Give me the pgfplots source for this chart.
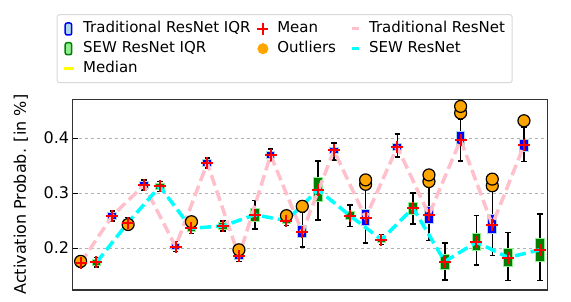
\documentclass[border=0pt]{standalone}
\usepackage{pgfplots}
\pgfplotsset{compat=1.18}
\usepgfplotslibrary{statistics}
\usepackage{fontspec}
\setmainfont{DejaVu Sans}
\definecolor{lightblue}{HTML}{ADD8E6}
\definecolor{lightgreen}{HTML}{90EE90}
\definecolor{mgreen}{HTML}{008000}
\definecolor{mpink}{HTML}{FFC0CB}
\definecolor{mcyan}{HTML}{00FFFF}
\definecolor{morange}{HTML}{FFA500}
\definecolor{myellow}{HTML}{FFFF00}
\pgfplotsset{
  tradbox/.style={forget plot, draw=black, line width=1.5pt,
    boxplot/every box/.style={draw=lightblue, fill=blue, line width=1pt},
    boxplot/every median/.style={draw=myellow, line width=1.5pt}},
  sewbox/.style={forget plot, draw=black, line width=1.5pt,
    boxplot/every box/.style={draw=lightgreen, fill=mgreen, line width=1pt},
    boxplot/every median/.style={draw=myellow, line width=1.5pt}},
}
\newcommand{\bx}[7]{\addplot[#1, boxplot prepared={draw position=#2, lower whisker=#3, lower quartile=#4, median=#5, upper quartile=#6, upper whisker=#7}] coordinates {};}
\newcommand{\lbb}{\path[draw=none,fill=none] (0pt,-6pt) rectangle (12pt,6pt);}
\newcommand{\lbbw}{\path[draw=none,fill=none] (0pt,-6pt) rectangle (19pt,6pt);}
\begin{document}
\begin{tikzpicture}
\useasboundingbox (-72.7pt,-12pt) rectangle (498.3pt,290pt);
\begin{axis}[
  scale only axis, width=475pt, height=190.7pt,
  xmin=0.5, xmax=30.5, ymin=0.124, ymax=0.4704,
  xtick=\empty, ytick={0.2,0.3,0.4},
  tick pos=left, major tick length=5pt,
  tick style={black, line width=1pt},
  axis line style={line width=1.5pt, black!80},
  ymajorgrids, grid style={dashed, gray!60, line width=0.9pt},
  yticklabel style={font=\fontsize{16}{19}\selectfont, /pgf/number format/fixed, /pgf/number format/precision=1, /pgf/number format/fixed zerofill},
  /pgf/number format/assume math mode=true,
  ylabel={Activation Probab. [in \%]},
  every axis y label/.style={at={(axis description cs:-0.109,0.5)}, rotate=90, anchor=center, font=\fontsize{16}{19}\selectfont},
  boxplot/draw direction=y, boxplot/box extend=0.55, boxplot/whisker extend=0.35,
  legend columns=3,
  legend cell align=left,
  legend style={at={(axis description cs:-0.0337,1.446)}, anchor=north west,
    draw=gray!30, line width=1pt, rounded corners=2pt, inner sep=5pt,
    font=\fontsize{15}{18}\selectfont,
    nodes={inner sep=2pt, text height=11pt, text depth=3.5pt},
    row sep=1.2pt,
    /tikz/every odd column/.append style={column sep=6pt},
    /tikz/every even column/.append style={column sep=4pt}},
]
% legend entries
\addlegendimage{legend image code/.code={\lbb\draw[blue, fill=lightblue, line width=1.5pt] (2.5pt,-6pt) rectangle (9pt,6pt);}}
\addlegendentry{Traditional ResNet IQR}
\addlegendimage{legend image code/.code={\lbb\draw[red, line width=1.7pt] (0.5pt,0pt)--(11.5pt,0pt) (6pt,-6pt)--(6pt,6pt);}}
\addlegendentry{Mean}
\addlegendimage{legend image code/.code={\lbbw\draw[mpink, line width=3pt] (9.5pt,0pt)--(16.5pt,0pt);}}
\addlegendentry{Traditional ResNet}
\addlegendimage{legend image code/.code={\lbb\draw[mgreen, fill=lightgreen, line width=1.5pt] (2.5pt,-6pt) rectangle (9pt,6pt);}}
\addlegendentry{SEW ResNet IQR}
\addlegendimage{legend image code/.code={\lbb\fill[morange] (6pt,0pt) circle (5pt);}}
\addlegendentry{Outliers}
\addlegendimage{legend image code/.code={\lbbw\draw[mcyan, line width=3pt] (9.5pt,0pt)--(16.5pt,0pt);}}
\addlegendentry{SEW ResNet}
\addlegendimage{legend image code/.code={\lbb\draw[myellow, line width=3pt] (1pt,0pt)--(11pt,0pt);}}
\addlegendentry{Median}

% Traditional ResNet boxes (odd positions)
\bx{tradbox}{1}{0.165}{0.167}{0.173}{0.179}{0.181}
\bx{tradbox}{3}{0.2497}{0.2527}{0.2587}{0.2647}{0.2677}
\bx{tradbox}{5}{0.3055}{0.3085}{0.3145}{0.3205}{0.3235}
\bx{tradbox}{7}{0.194}{0.197}{0.203}{0.209}{0.212}
\bx{tradbox}{9}{0.3455}{0.3485}{0.3545}{0.3605}{0.3635}
\bx{tradbox}{11}{0.176}{0.179}{0.185}{0.191}{0.194}
\bx{tradbox}{13}{0.3575}{0.363}{0.369}{0.375}{0.380}
\bx{tradbox}{15}{0.2018}{0.220}{0.229}{0.2405}{0.265}
\bx{tradbox}{17}{0.3600}{0.372}{0.3775}{0.383}{0.391}
\bx{tradbox}{19}{0.209}{0.2405}{0.255}{0.270}{0.310}
\bx{tradbox}{21}{0.3655}{0.378}{0.384}{0.390}{0.4078}
\bx{tradbox}{23}{0.2138}{0.2454}{0.2605}{0.2756}{0.315}
\bx{tradbox}{25}{0.3587}{0.386}{0.397}{0.411}{0.435}
\bx{tradbox}{27}{0.1866}{0.226}{0.2424}{0.2605}{0.305}
\bx{tradbox}{29}{0.3575}{0.3757}{0.3866}{0.397}{0.420}
% SEW ResNet boxes (even positions)
\bx{sewbox}{2}{0.166}{0.169}{0.174}{0.180}{0.183}
\bx{sewbox}{4}{0.2376}{0.2406}{0.2466}{0.2526}{0.2556}
\bx{sewbox}{6}{0.303}{0.306}{0.312}{0.318}{0.321}
\bx{sewbox}{8}{0.227}{0.230}{0.236}{0.242}{0.245}
\bx{sewbox}{10}{0.2315}{0.2345}{0.2405}{0.2465}{0.2495}
\bx{sewbox}{12}{0.2345}{0.2484}{0.2605}{0.2727}{0.2866}
\bx{sewbox}{14}{0.241}{0.244}{0.250}{0.256}{0.259}
\bx{sewbox}{16}{0.2515}{0.2847}{0.306}{0.3284}{0.3587}
\bx{sewbox}{18}{0.239}{0.2515}{0.2593}{0.2666}{0.2787}
\bx{sewbox}{20}{0.2065}{0.2095}{0.2155}{0.2215}{0.2245}
\bx{sewbox}{22}{0.2442}{0.2605}{0.2727}{0.283}{0.300}
\bx{sewbox}{24}{0.1424}{0.1605}{0.1757}{0.1878}{0.209}
\bx{sewbox}{26}{0.1697}{0.1957}{0.211}{0.226}{0.2593}
\bx{sewbox}{28}{0.141}{0.1665}{0.183}{0.1987}{0.2284}
\bx{sewbox}{30}{0.141}{0.1757}{0.197}{0.218}{0.2618}

% outliers
\addplot[forget plot, only marks, mark=*, mark size=6pt, mark options={fill=morange, draw=black, line width=1.2pt}] coordinates {
(1,0.176)(4,0.243)(8,0.248)(11,0.197)(14,0.259)(15,0.276)(19,0.316)(19,0.324)
(23,0.321)(23,0.333)(25,0.4455)(25,0.4575)(27,0.3133)(27,0.3254)(29,0.4314)};

% connecting lines
\addplot[forget plot, mpink, line width=3.5pt, dash pattern=on 11pt off 5pt] coordinates {
(1,0.173)(3,0.2587)(5,0.3145)(7,0.203)(9,0.3545)(11,0.185)(13,0.369)(15,0.229)(17,0.3775)(19,0.255)(21,0.384)(23,0.2605)(25,0.397)(27,0.2424)(29,0.3866)};
\addplot[forget plot, mcyan, line width=3.5pt, dash pattern=on 11pt off 5pt] coordinates {
(2,0.174)(4,0.2466)(6,0.312)(8,0.236)(10,0.2405)(12,0.2605)(14,0.250)(16,0.306)(18,0.2593)(20,0.2155)(22,0.2727)(24,0.1757)(26,0.211)(28,0.183)(30,0.197)};

% means
\addplot[forget plot, only marks, mark=+, mark size=6pt, red, line width=2pt] coordinates {
(1,0.173)(3,0.2587)(5,0.3145)(7,0.203)(9,0.3545)(11,0.185)(13,0.369)(15,0.229)(17,0.3775)(19,0.255)(21,0.384)(23,0.2605)(25,0.397)(27,0.2424)(29,0.3866)
(2,0.174)(4,0.2466)(6,0.312)(8,0.236)(10,0.2405)(12,0.2605)(14,0.250)(16,0.306)(18,0.2593)(20,0.2155)(22,0.2727)(24,0.1757)(26,0.211)(28,0.183)(30,0.197)};
\end{axis}
\end{tikzpicture}
\end{document}
